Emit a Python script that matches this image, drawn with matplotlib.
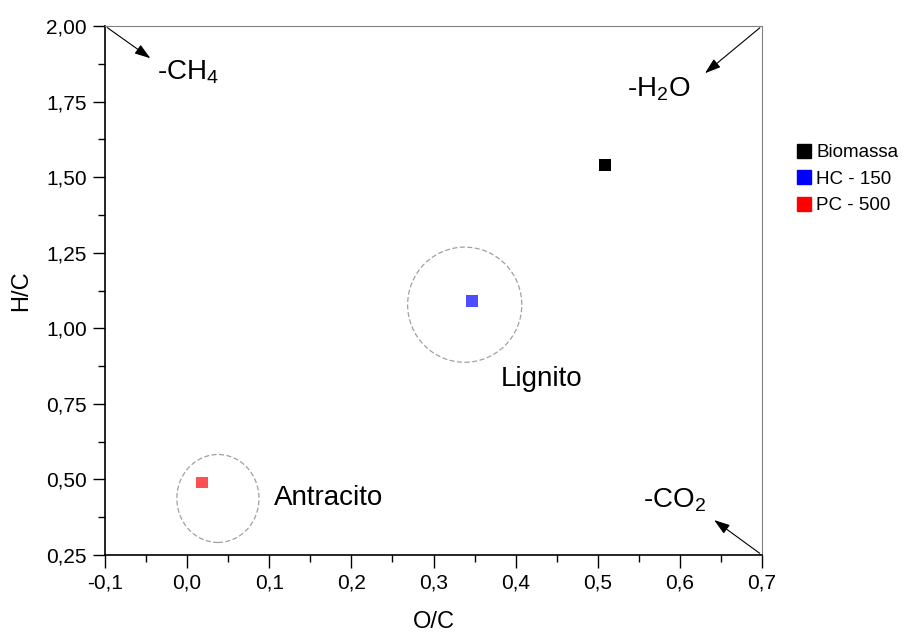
import matplotlib.pyplot as plt
from matplotlib.patches import Ellipse
from matplotlib.ticker import MultipleLocator, FuncFormatter

plt.rcParams.update({'font.family': 'Liberation Sans', 'font.size': 12,
                     'mathtext.fontset': 'custom',
                     'mathtext.rm': 'Liberation Sans',
                     'mathtext.it': 'Liberation Sans:italic'})

# Van Krevelen points
samples = ['Biomassa', 'HC - 150', 'PC - 500']
oc_ratio = [0.509, 0.347, 0.018]
hc_ratio = [1.54, 1.09, 0.49]
marker_colors = ['#000000', '#4d4dff', '#ff5050']
legend_colors = ['#000000', '#0000ff', '#ff0000']

# coal regions
region_names = ['Lignito', 'Antracito']
region_center_x = [0.338, 0.0375]
region_center_y = [1.078, 0.437]
region_width = [0.139, 0.100]
region_height = [0.381, 0.291]

fig = plt.figure(figsize=(9.05, 6.37), dpi=100)
ax = fig.add_axes([105 / 905, 1 - 555 / 637, 657 / 905, 529 / 637])

for x, y, c in zip(oc_ratio, hc_ratio, marker_colors):
    ax.scatter(x, y, marker='s', s=70, color=c, edgecolors='none', zorder=3)

for cx, cy, w, h in zip(region_center_x, region_center_y, region_width, region_height):
    ax.add_patch(Ellipse((cx, cy), w, h, fill=False, edgecolor='#a0a0a0',
                         linestyle=(0, (4, 2)), linewidth=0.9))

ax.text(0.382, 0.831, 'Lignito', fontsize=20, va='center', ha='left')
ax.text(0.106, 0.44, 'Antracito', fontsize=20, va='center', ha='left')

arrow = dict(arrowstyle='-|>,head_length=0.6,head_width=0.2', color='black', lw=0.8,
             mutation_scale=16)
ax.annotate('', xy=(-0.042, 1.888), xytext=(-0.1, 2.0), arrowprops=arrow)
ax.annotate('', xy=(0.628, 1.838), xytext=(0.7, 2.0), arrowprops=arrow)
ax.annotate('', xy=(0.639, 0.371), xytext=(0.7, 0.25), arrowprops=arrow)
ax.text(-0.037, 1.846, '-CH$_4$', fontsize=20, va='center', ha='left')
ax.text(0.5736, 1.79, '-H$_2$O', fontsize=20, va='center', ha='center')
ax.text(0.594, 0.430, '-CO$_2$', fontsize=20, va='center', ha='center')

ax.set_xlim(-0.1, 0.7)
ax.set_ylim(0.25, 2.0)
ax.xaxis.set_major_locator(MultipleLocator(0.1))
ax.xaxis.set_minor_locator(MultipleLocator(0.05))
ax.yaxis.set_major_locator(MultipleLocator(0.25))
ax.yaxis.set_minor_locator(MultipleLocator(0.125))
ax.xaxis.set_major_formatter(FuncFormatter(lambda v, p: f'{v:.1f}'.replace('.', ',').replace('-0,0', '0,0')))
ax.yaxis.set_major_formatter(FuncFormatter(lambda v, p: f'{v:.2f}'.replace('.', ',')))
ax.tick_params(which='major', direction='out', length=9, width=1, labelsize=15, pad=4)
ax.tick_params(which='minor', direction='out', length=5, width=1)
for side in ['top', 'right']:
    ax.spines[side].set_color('#808080')
ax.spines['left'].set_linewidth(1.2)
ax.spines['bottom'].set_linewidth(1.2)

ax.set_xlabel('O/C', fontsize=17, labelpad=14)
ax.set_ylabel('H/C', fontsize=17, labelpad=10)

handles = [plt.Line2D([], [], marker='s', linestyle='none', markersize=9.5,
                      color=c) for c in legend_colors]
fig.legend(handles, samples, loc='upper left', bbox_to_anchor=(778 / 905, 1 - 129 / 637),
           frameon=False, fontsize=13.5, handletextpad=0.05, labelspacing=0.5,
           handlelength=1.2, borderpad=0.3)

fig.savefig('out.png', dpi=100)
